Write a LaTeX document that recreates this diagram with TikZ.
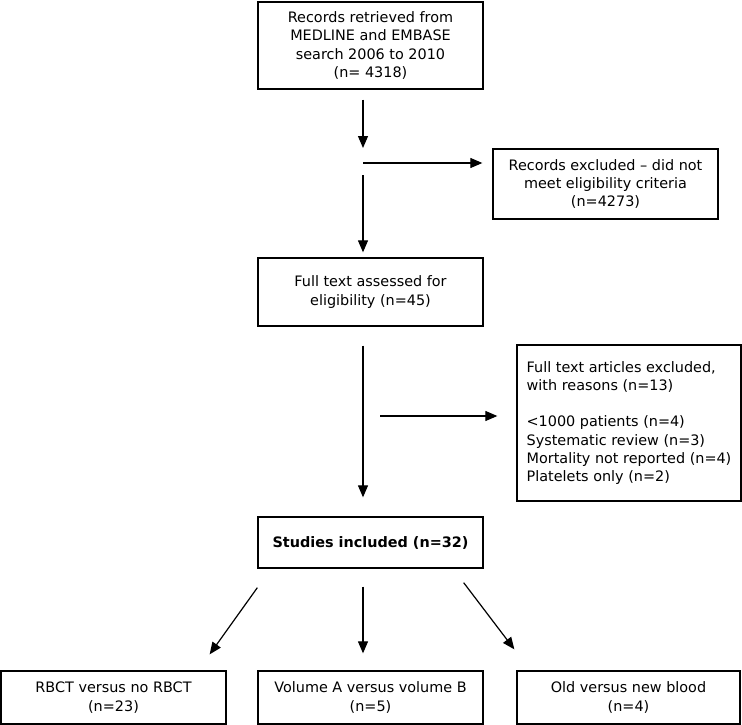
\documentclass[tikz,border=0pt]{standalone}
\usepackage{fontspec}
\setmainfont{DejaVu Sans}
\usepackage{tikz}
\usetikzlibrary{arrows.meta}
\usetikzlibrary{calc}

\tikzset{
  box/.style={draw, line width=1.3pt, align=center, minimum width=225, inner sep=0pt,
    font=\fontsize{14.4}{18.3}\selectfont},
  flow/.style={line width=1.2pt, -{Triangle[length=12pt,width=10pt]}}
}

\begin{document}
\begin{tikzpicture}[x=1pt,y=1pt,yscale=-1,xscale=1]
\useasboundingbox (0,0) rectangle (742,725);

%Shape: Rectangle [top]
\draw (370.5,45.5) node [box, minimum height=87] (records) {Records retrieved from\\MEDLINE and EMBASE\\search 2006 to 2010\\(n= 4318)};
%Shape: Rectangle [excluded 1]
\draw (605.5,184) node [box, minimum height=70] (excl) {Records excluded -- did not\\meet eligibility criteria\\(n=4273)};
%Shape: Rectangle [full text]
\draw (370.5,292) node [box, minimum height=68] (fulltext) {Full text assessed for\\eligibility (n=45)};
%Shape: Rectangle [excluded 2]
\draw (629,423) node [box, align=left, minimum width=224, minimum height=156] (reasons) {Full text articles excluded,\\with reasons (n=13)\\[18.3pt]<1000 patients (n=4)\\Systematic review (n=3)\\Mortality not reported (n=4)\\Platelets only (n=2)};
%Shape: Rectangle [included]
\draw (370.5,542.5) node [box, minimum height=51] (included) {\textbf{Studies included (n=32)}};
%Shape: Rectangle [groups]
\draw (113.5,697.5) node [box, minimum height=53] (rbct) {RBCT versus no RBCT\\(n=23)};
\draw (370.5,697.5) node [box, minimum height=53] (volume) {Volume A versus volume B\\(n=5)};
\draw (628.5,697.5) node [box, minimum width=223, minimum height=53] (old) {Old versus new blood\\(n=4)};

% split points
\coordinate (splitA) at (363,163);
\coordinate (splitB) at (363,416);

%Straight Lines
\draw [flow, shorten <=10pt, shorten >=15pt] (splitA |- records.south) -- (splitA);
\draw [flow, shorten <=12pt, shorten >=5pt] (splitA) -- (splitA |- fulltext.north);
\draw [flow, shorten >=10pt] (splitA) -- (splitA -| excl.west);
\draw [flow, shorten <=19pt, shorten >=19pt] (splitB |- fulltext.south) -- (splitB |- included.north);
\draw [flow, shorten <=17pt, shorten >=19pt] (splitB) -- (splitB -| reasons.west);
\draw [flow] ($(included.south west)+(0,19)$) -- ($(rbct.north east)+(-17,-16)$);
\draw [flow, shorten <=18pt, shorten >=17pt] (splitB |- included.south) -- (splitB |- volume.north);
\draw [flow] ($(included.south east)+(-20,14)$) -- ($(old.north west)+(-2,-21)$);

\end{tikzpicture}
\end{document}
